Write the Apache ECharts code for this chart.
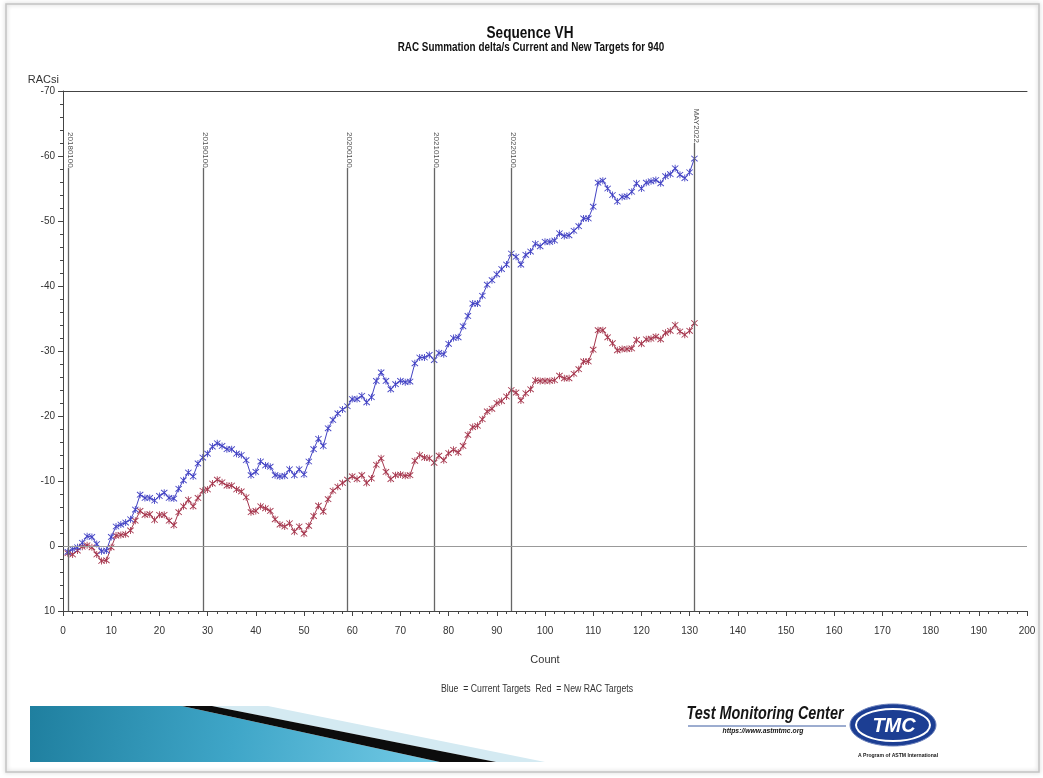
<!DOCTYPE html>
<html>
<head>
<meta charset="utf-8">
<script src="https://cdn.jsdelivr.net/npm/echarts@6/dist/echarts.min.js"></script>
<style>
  html, body { margin: 0; padding: 0; background: #ffffff; }
  #chart { width: 1043px; height: 778px; }
</style>
</head>
<body>
<div id="chart"></div>
<script>
// Cumulative RAC summation deltas, one value per test count (1..131)
const blueCurrentTargets = [
  0.9, 0.5, 0.2, -0.5, -1.5, -1.4, -0.3, 0.8, 0.7, -1.4,
  -3.0, -3.3, -3.6, -4.1, -5.6, -7.9, -7.4, -7.4, -7.0, -7.7,
  -8.2, -7.4, -7.3, -8.8, -10.1, -11.3, -10.7, -12.7, -13.6, -14.2,
  -15.3, -15.8, -15.4, -14.9, -14.9, -14.2, -14.0, -13.2, -10.9, -11.4,
  -13.0, -12.4, -12.2, -10.9, -10.7, -10.8, -11.8, -10.9, -11.8, -11.0,
  -13.0, -14.9, -16.5, -15.4, -18.1, -19.4, -20.4, -21.0, -21.5, -22.6,
  -22.6, -23.1, -22.1, -22.9, -25.4, -26.7, -25.4, -24.1, -24.9, -25.4,
  -25.2, -25.3, -28.1, -29.0, -29.0, -29.4, -28.6, -29.7, -29.5, -31.1,
  -32.0, -32.1, -33.8, -35.4, -37.3, -37.3, -38.5, -40.2, -40.9, -41.8,
  -42.6, -43.3, -45.0, -44.5, -43.3, -44.8, -45.3, -46.5, -46.1, -46.8,
  -46.8, -47.0, -48.1, -47.7, -47.8, -48.5, -49.2, -50.4, -50.4, -52.2,
  -55.9, -56.2, -55.0, -54.0, -53.0, -53.7, -53.8, -54.5, -55.8, -55.0,
  -55.9, -56.1, -56.3, -55.8, -56.9, -57.2, -58.1, -57.1, -56.6, -57.5,
  -59.6
];
const redNewTargets = [
  1.1, 1.3, 0.7, 0.1, -0.1, 0.2, 1.3, 2.3, 2.2, 0.2,
  -1.6, -1.7, -1.8, -2.4, -3.9, -5.4, -4.8, -4.9, -4.0, -4.8,
  -4.8, -3.9, -3.2, -5.2, -6.1, -7.1, -6.1, -7.4, -8.5, -8.7,
  -9.6, -10.2, -9.8, -9.3, -9.3, -8.7, -8.4, -7.5, -5.2, -5.4,
  -6.1, -5.8, -5.4, -4.1, -3.3, -3.0, -3.5, -2.2, -3.0, -1.9,
  -3.1, -4.6, -6.2, -5.3, -7.2, -8.5, -9.1, -9.7, -10.2, -10.7,
  -10.3, -10.9, -9.7, -10.4, -12.5, -13.5, -11.4, -10.3, -10.9, -11.0,
  -10.8, -10.9, -13.1, -14.0, -13.6, -13.5, -12.8, -13.9, -13.2, -14.3,
  -14.8, -14.4, -15.4, -17.1, -18.3, -18.5, -19.5, -20.7, -21.1, -22.0,
  -22.3, -23.0, -24.0, -23.6, -22.4, -23.5, -24.1, -25.5, -25.4, -25.4,
  -25.4, -25.5, -26.2, -25.8, -25.8, -26.5, -27.2, -28.4, -28.4, -30.2,
  -33.2, -33.2, -32.1, -31.2, -30.1, -30.3, -30.3, -30.4, -31.7, -31.1,
  -31.8, -31.9, -32.2, -31.8, -32.8, -33.1, -34.0, -33.0, -32.5, -33.1,
  -34.3
];
// Period reference lines (test count) and their labels
const refCounts = [1, 29, 59, 77, 93, 131];
const refLabels = ['20180100', '20190100', '20200100', '20210100', '20220100', 'MAY2022'];

const FONT = "'Liberation Sans', Arial, sans-serif";
const BLUE = '#4343c4';
const RED = '#a6374e';

// asterisk-like plot marker: an X crossed by a vertical bar
const STAR = 'path://M0.6,1.4L1.4,0.6L9.4,8.6L8.6,9.4Z M8.6,0.6L9.4,1.4L1.4,9.4L0.6,8.6Z M4.45,0L5.55,0L5.55,10L4.45,10Z';

const toPoints = arr => arr.map((v, i) => [i + 1, v]);
// top of each reference line (label sits just above it)
const refTop = refLabels.map(t => (t.length > 7 ? -58.2 : -62.0));

// condensed text helper (narrow sans look)
function narrowText(str, x, y, font, sx, color) {
  return {
    type: 'text', x: x, y: y, scaleX: sx, silent: true,
    style: { text: str, font: font, fill: color || '#111', align: 'center', verticalAlign: 'middle' }
  };
}

const chart = echarts.init(document.getElementById('chart'), null, { renderer: 'canvas' });

chart.setOption({
  backgroundColor: '#ffffff',
  animation: false,
  textStyle: { fontFamily: FONT },
  grid: { left: 63, top: 91, width: 964, height: 520 },
  xAxis: [
    {
      type: 'value', min: 0, max: 200, interval: 10,
      name: 'Count', nameLocation: 'middle', nameGap: 43,
      nameTextStyle: { fontFamily: FONT, fontSize: 11, color: '#333' },
      axisLine: { show: true, onZero: false, lineStyle: { color: '#444', width: 1 } },
      axisTick: { show: true, length: 5, lineStyle: { color: '#444' } },
      minorTick: { show: true, splitNumber: 5, length: 3, lineStyle: { color: '#444' } },
      axisLabel: { fontFamily: FONT, fontSize: 10, color: '#333', margin: 15 },
      splitLine: { show: false }
    },
    {
      type: 'value', min: 0, max: 200, position: 'top',
      axisLine: { show: true, onZero: false, lineStyle: { color: '#444', width: 1 } },
      axisTick: { show: false }, axisLabel: { show: false }, splitLine: { show: false }
    }
  ],
  yAxis: {
    type: 'value', min: -70, max: 10, interval: 10, inverse: true,
    name: 'RACsi', nameLocation: 'start', nameGap: 6,
    nameTextStyle: { fontFamily: FONT, fontSize: 11, color: '#333', align: 'right', padding: [0, 4, 0, 0] },
    axisLine: { show: true, onZero: false, lineStyle: { color: '#444', width: 1 } },
    axisTick: { show: true, length: 5, lineStyle: { color: '#444' } },
    minorTick: { show: true, splitNumber: 5, length: 3, lineStyle: { color: '#444' } },
    axisLabel: { fontFamily: FONT, fontSize: 10, color: '#333', margin: 8 },
    splitLine: { show: false }
  },
  series: [
    {
      name: 'Reference', type: 'scatter', symbolSize: 0, silent: true, z: 2,
      data: refCounts.map((c, i) => ({ value: [c, refTop[i]], label: { formatter: refLabels[i] } })),
      label: {
        show: true, position: 'inside', rotate: -90, align: 'right', verticalAlign: 'middle',
        offset: [0, -2], fontFamily: FONT, fontSize: 8, color: '#222'
      },
      markLine: {
        silent: true, symbol: 'none', animation: false,
        lineStyle: { color: '#666', width: 1.3, type: 'solid' },
        label: { show: false },
        data: refCounts.map((c, i) => [{ coord: [c, 10] }, { coord: [c, refTop[i]] }])
      }
    },
    {
      name: 'Current Targets', type: 'line', data: toPoints(blueCurrentTargets), z: 4,
      symbol: STAR, symbolSize: 7, showAllSymbol: true,
      lineStyle: { color: BLUE, width: 1 },
      itemStyle: { color: BLUE },
      markLine: {
        silent: true, symbol: 'none', animation: false, label: { show: false },
        lineStyle: { color: '#999', width: 1, type: 'solid' },
        data: [{ yAxis: 0 }]
      }
    },
    {
      name: 'New RAC Targets', type: 'line', data: toPoints(redNewTargets), z: 3,
      symbol: STAR, symbolSize: 7, showAllSymbol: true,
      lineStyle: { color: RED, width: 1 },
      itemStyle: { color: RED }
    }
  ],
  graphic: [
    // slide frame
    { type: 'rect', z: -10, shape: { x: 6, y: 4, width: 1033, height: 768 },
      style: { fill: 'none', stroke: '#c4c4c4', lineWidth: 1.5, shadowBlur: 4, shadowColor: 'rgba(0,0,0,0.25)' } },
    // headings and caption
    narrowText('Sequence VH', 530, 33, "bold 17px 'Liberation Sans', Arial", 0.8),
    narrowText('RAC Summation delta/s Current and New Targets for 940', 531, 47, "bold 13px 'Liberation Sans', Arial", 0.76),
    narrowText('Blue  = Current Targets  Red  = New RAC Targets', 537, 689, "10px 'Liberation Sans', Arial", 0.87, '#333'),
    // footer banner
    { type: 'polygon', z: -5, shape: { points: [[212, 706], [268, 706], [545, 762], [496, 762]] },
      style: { fill: '#d4eaf2' } },
    { type: 'polygon', z: -5, shape: { points: [[30, 706], [182, 706], [440, 762], [30, 762]] },
      style: { fill: new echarts.graphic.LinearGradient(0, 0, 1, 1, [
        { offset: 0, color: '#1f7f9f' }, { offset: 0.5, color: '#3fa6c8' }, { offset: 1, color: '#74cbe6' }]) } },
    { type: 'polygon', z: -5, shape: { points: [[182, 706], [212, 706], [496, 762], [440, 762]] },
      style: { fill: '#0c0c0c' } },
    // Test Monitoring Center logo
    narrowText('Test Monitoring Center', 765, 714, "italic bold 18px 'Liberation Sans', Arial", 0.8, '#151515'),
    { type: 'line', shape: { x1: 688, y1: 726, x2: 846, y2: 726 }, style: { stroke: '#3a5aa0', lineWidth: 1 } },
    narrowText('https://www.astmtmc.org', 763, 731, "italic bold 8px 'Liberation Sans', Arial", 0.85, '#151515'),
    { type: 'ellipse', shape: { cx: 893, cy: 725, rx: 43, ry: 21 },
      style: { fill: '#1c3e93', stroke: '#6b80bb', lineWidth: 1 } },
    { type: 'ellipse', shape: { cx: 893, cy: 725, rx: 37, ry: 16 },
      style: { fill: 'none', stroke: '#ffffff', lineWidth: 2 } },
    narrowText('TMC', 894, 726, "italic bold 21px 'Liberation Sans', Arial", 0.95, '#ffffff'),
    narrowText('A Program of ASTM International', 898, 755, "bold 6px 'Liberation Sans', Arial", 0.85, '#151515')
  ]
});
</script>
</body>
</html>
